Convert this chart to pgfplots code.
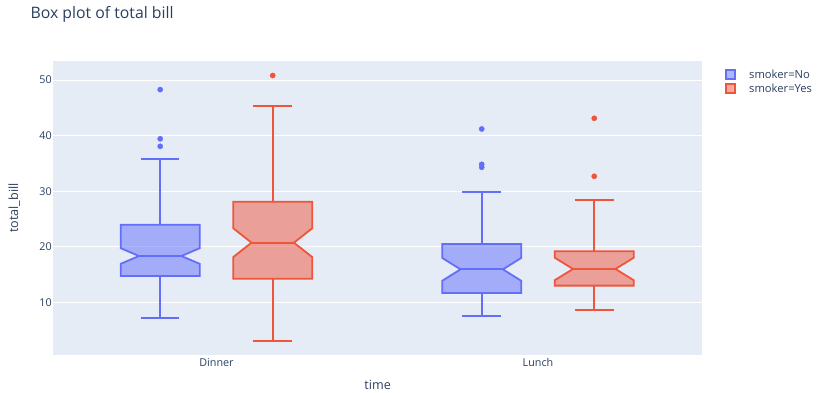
\documentclass[border=0pt]{standalone}
\usepackage{pgfplots}
\pgfplotsset{compat=1.18}
\usepackage{fontspec}
\setmainfont{Open Sans}
\definecolor{pblue}{HTML}{636EFA}
\definecolor{pred}{HTML}{EF553B}
\definecolor{bgc}{HTML}{E5ECF6}
\definecolor{txt}{HTML}{2A3F5F}
\begin{document}
\begin{tikzpicture}
\begin{axis}[
  at={(53.3pt,37pt)}, anchor=south west,
  scale only axis, width=648.7pt, height=294pt,
  xmin=-0.5075, xmax=1.5102, ymin=0.52, ymax=53.42,
  axis background/.style={fill=bgc},
  axis line style={draw=none},
  major tick length=0pt,
  xtick={0,1}, xticklabels={Dinner,Lunch},
  ytick={10,20,30,40,50},
  ymajorgrids, grid style={white, line width=1pt},
  tick label style={font=\fontsize{10.8}{13}\selectfont, text=txt},
  /pgf/number format/assume math mode=true,
  xticklabel style={anchor=base, inner sep=0pt, yshift=-11.7pt},
  yticklabel style={anchor=east, inner sep=0pt, xshift=-1.3pt},
  xlabel={time}, ylabel={total\_bill},
  label style={font=\fontsize{12.6}{15}\selectfont, text=txt},
  xlabel style={at={(axis description cs:0.5,-0.119)}, anchor=base},
  ylabel style={at={(axis description cs:-0.0601,0.5)}, anchor=center},
  title={Box plot of total bill},
  title style={at={(axis description cs:-0.0405,1.1429)}, anchor=base west, yshift=-6pt, font=\fontsize{15.8}{19}\selectfont, text=txt},
  unbounded coords=jump,
  legend style={at={(axis description cs:1,1)}, anchor=north west, xshift=23.3pt, yshift=-8.3pt,
    draw=none, fill=none, inner sep=0pt, outer sep=0pt,
    font=\fontsize{11.2}{13}\selectfont, text=txt, row sep=3.6pt, nodes={inner sep=0pt}},
  legend cell align=left,
  legend image code/.code={\draw[#1,line width=1.8pt] (0pt,-4.4pt) rectangle (8.8pt,4.4pt); \path (22.8pt,0pt);},
]
% legend
\addlegendimage{draw=pblue, fill=pblue, fill opacity=0.5}
\addlegendentry{smoker=No}
\addlegendimage{draw=pred, fill=pred, fill opacity=0.5}
\addlegendentry{smoker=Yes}

% ---------- Dinner, No (center -0.175) ----------
\addplot[draw=pblue, fill=pblue, fill opacity=0.5, draw opacity=1, line width=1.8pt, forget plot] coordinates {
 (-0.298,14.73) (-0.298,16.92) (-0.241,18.33) (-0.298,19.74) (-0.298,23.95)
 (-0.052,23.95) (-0.052,19.74) (-0.109,18.33) (-0.052,16.92) (-0.052,14.73)} --cycle;
\addplot[pblue, line width=1.8pt, forget plot] coordinates {
 (-0.175,23.95) (-0.175,35.83) (-0.175,nan)
 (-0.235,35.83) (-0.115,35.83) (-0.115,nan)
 (-0.175,14.73) (-0.175,7.25) (-0.175,nan)
 (-0.235,7.25) (-0.115,7.25) (-0.115,nan)
 (-0.241,18.33) (-0.109,18.33)};
\addplot[only marks, mark=*, mark size=2.6pt, color=pblue, mark options={draw=none}, forget plot] coordinates {
 (-0.175,48.27) (-0.175,39.42) (-0.175,38.07)};

% ---------- Dinner, Yes (center 0.175) ----------
\addplot[draw=pred, fill=pred, fill opacity=0.5, draw opacity=1, line width=1.8pt, forget plot] coordinates {
 (0.052,14.25) (0.052,18.13) (0.109,20.73) (0.052,23.33) (0.052,28.11)
 (0.298,28.11) (0.298,23.33) (0.241,20.73) (0.298,18.13) (0.298,14.25)} --cycle;
\addplot[pred, line width=1.8pt, forget plot] coordinates {
 (0.175,28.11) (0.175,45.35) (0.175,nan)
 (0.115,45.35) (0.235,45.35) (0.235,nan)
 (0.175,14.25) (0.175,3.07) (0.175,nan)
 (0.115,3.07) (0.235,3.07) (0.235,nan)
 (0.109,20.73) (0.241,20.73)};
\addplot[only marks, mark=*, mark size=2.6pt, color=pred, mark options={draw=none}, forget plot] coordinates {
 (0.175,50.81)};

% ---------- Lunch, No (center 0.825) ----------
\addplot[draw=pblue, fill=pblue, fill opacity=0.5, draw opacity=1, line width=1.8pt, forget plot] coordinates {
 (0.702,11.67) (0.702,13.87) (0.759,15.93) (0.702,17.99) (0.702,20.49)
 (0.948,20.49) (0.948,17.99) (0.891,15.93) (0.948,13.87) (0.948,11.67)} --cycle;
\addplot[pblue, line width=1.8pt, forget plot] coordinates {
 (0.825,20.49) (0.825,29.85) (0.825,nan)
 (0.765,29.85) (0.885,29.85) (0.885,nan)
 (0.825,11.67) (0.825,7.51) (0.825,nan)
 (0.765,7.51) (0.885,7.51) (0.885,nan)
 (0.759,15.93) (0.891,15.93)};
\addplot[only marks, mark=*, mark size=2.6pt, color=pblue, mark options={draw=none}, forget plot] coordinates {
 (0.825,41.19) (0.825,34.83) (0.825,34.30)};

% ---------- Lunch, Yes (center 1.175) ----------
\addplot[draw=pred, fill=pred, fill opacity=0.5, draw opacity=1, line width=1.8pt, forget plot] coordinates {
 (1.052,13.00) (1.052,13.97) (1.109,16.00) (1.052,18.03) (1.052,19.19)
 (1.298,19.19) (1.298,18.03) (1.241,16.00) (1.298,13.97) (1.298,13.00)} --cycle;
\addplot[pred, line width=1.8pt, forget plot] coordinates {
 (1.175,19.19) (1.175,28.47) (1.175,nan)
 (1.115,28.47) (1.235,28.47) (1.235,nan)
 (1.175,13.00) (1.175,8.58) (1.175,nan)
 (1.115,8.58) (1.235,8.58) (1.235,nan)
 (1.109,16.00) (1.241,16.00)};
\addplot[only marks, mark=*, mark size=2.6pt, color=pred, mark options={draw=none}, forget plot] coordinates {
 (1.175,43.11) (1.175,32.68)};
\end{axis}
\pgfresetboundingbox
\path[use as bounding box] (0pt,0pt) rectangle (821pt,392pt);
\end{tikzpicture}
\end{document}
